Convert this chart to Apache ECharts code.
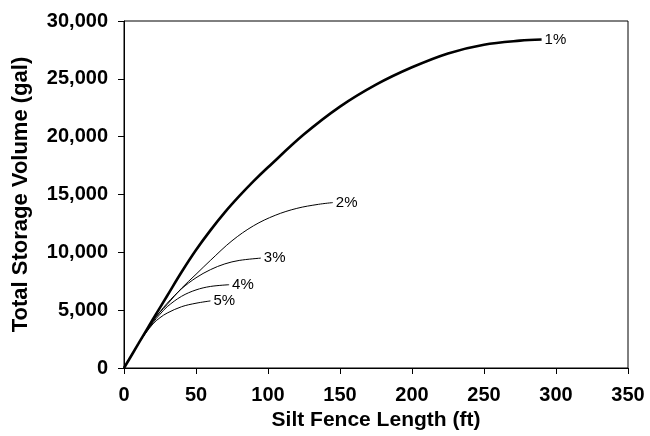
<!DOCTYPE html>
<html>
<head>
<meta charset="utf-8">
<script src="https://cdn.jsdelivr.net/npm/echarts@6/dist/echarts.min.js"></script>
<style>html,body{margin:0;padding:0;background:#fff}#c{width:650px;height:436px}</style>
</head>
<body>
<div id="c"></div>
<script>
const seriesNames = ['1%', '2%', '3%', '4%', '5%'];
const len1 = [0, 10, 20, 30, 40, 50, 60, 70, 80, 90, 100, 125, 150, 175, 200, 225, 250, 275, 290];
const vol1 = [0, 2100, 4200, 6250, 8300, 10200, 11900, 13450, 14850, 16150, 17350, 20200, 22600, 24500, 26000, 27200, 27950, 28300, 28400];
const len2 = [0, 10, 20, 30, 40, 50, 60, 75, 90, 105, 120, 135, 145];
const vol2 = [0, 2100, 4100, 5500, 6900, 8100, 9300, 11000, 12300, 13200, 13800, 14150, 14300];
const len3 = [0, 10, 20, 25, 30, 40, 50, 60, 70, 80, 95];
const vol3 = [0, 2100, 4000, 4850, 5600, 6850, 7800, 8500, 9000, 9300, 9500];
const len4 = [0, 10, 20, 25, 30, 40, 50, 60, 73];
const vol4 = [0, 2100, 3900, 4650, 5300, 6200, 6750, 7050, 7200];
const len5 = [0, 10, 20, 25, 30, 40, 50, 60];
const vol5 = [0, 2100, 3800, 4350, 4750, 5300, 5600, 5800];
const xTicks = [0, 50, 100, 150, 200, 250, 300, 350];
const yTicks = [0, 5000, 10000, 15000, 20000, 25000, 30000];

const lens = [len1, len2, len3, len4, len5];
const vols = [vol1, vol2, vol3, vol4, vol5];
const widths = [2.6, 1, 1, 1, 1];

const chart = echarts.init(document.getElementById('c'), null, {renderer: 'canvas'});
const fmt = v => v.toString().replace(/\B(?=(\d{3})+(?!\d))/g, ',');
const font = 'Liberation Sans, Arial, sans-serif';
chart.setOption({
  animation: false,
  backgroundColor: '#fff',
  grid: {left: 124, right: 22, top: 21, bottom: 68, show: true, borderColor: '#000', borderWidth: 1, containLabel: false, outerBoundsMode: 'none'},
  xAxis: {
    type: 'value', min: xTicks[0], max: xTicks[xTicks.length - 1], interval: 50,
    name: 'Silt Fence Length (ft)', nameLocation: 'middle', nameGap: 32,
    nameTextStyle: {fontFamily: font, fontWeight: 'bold', fontSize: 21, color: '#000'},
    axisLine: {show: true, lineStyle: {color: '#000', width: 1}},
    axisTick: {show: true, inside: false, length: 6, lineStyle: {color: '#000'}},
    axisLabel: {fontFamily: font, fontWeight: 'bold', fontSize: 20, color: '#000', margin: 17},
    splitLine: {show: false}
  },
  yAxis: {
    type: 'value', min: yTicks[0], max: yTicks[yTicks.length - 1], interval: 5000,
    name: 'Total Storage Volume (gal)', nameLocation: 'middle', nameGap: 92,
    nameTextStyle: {fontFamily: font, fontWeight: 'bold', fontSize: 22, color: '#000'},
    axisLine: {show: true, lineStyle: {color: '#000', width: 1}},
    axisTick: {show: true, inside: false, length: 6, lineStyle: {color: '#000'}},
    axisLabel: {fontFamily: font, fontWeight: 'bold', fontSize: 20, color: '#000', margin: 16, formatter: fmt},
    splitLine: {show: false}
  },
  series: seriesNames.map((n, i) => ({
    name: n,
    type: 'line',
    smooth: 0.35,
    symbol: 'none',
    data: lens[i].map((x, j) => [x, vols[i][j]]),
    lineStyle: {color: '#000', width: widths[i]},
    endLabel: {show: true, formatter: n, fontFamily: font, fontSize: 15, color: '#000', distance: 3}
  }))
});
</script>
</body>
</html>
